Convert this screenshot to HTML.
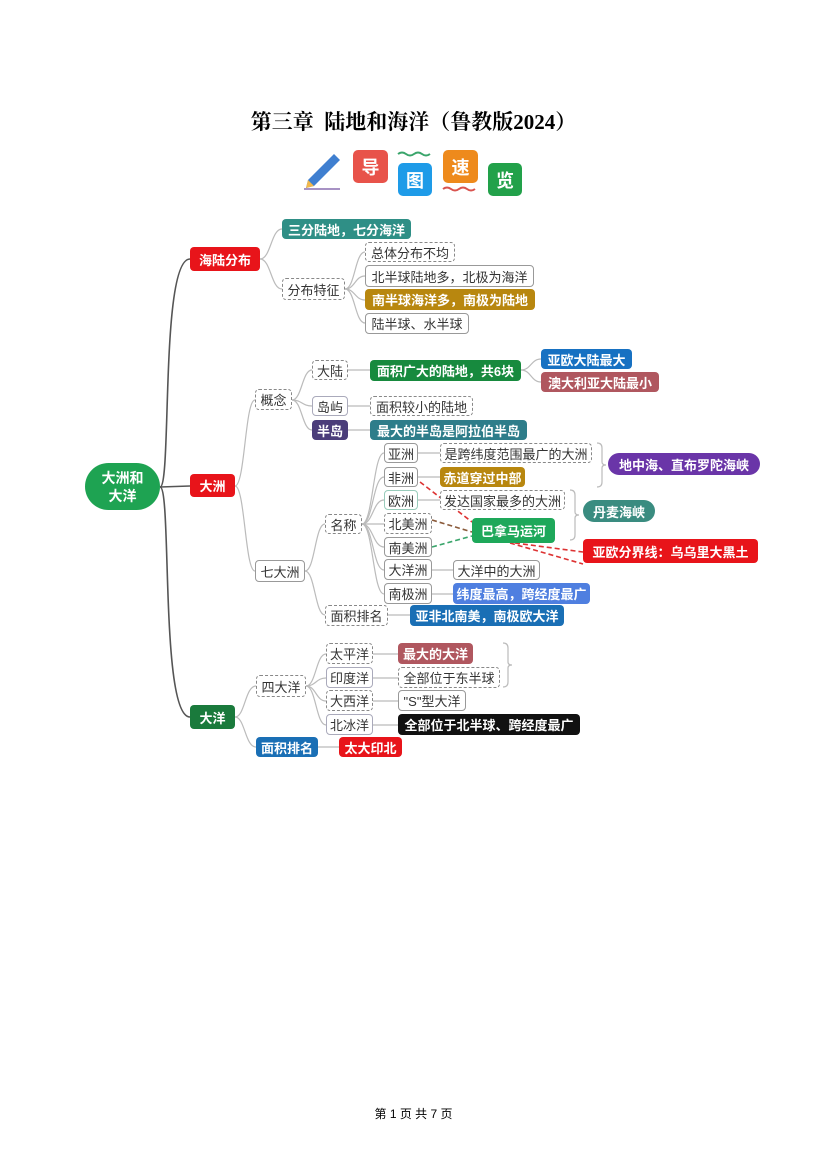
<!DOCTYPE html>
<html><head><meta charset="utf-8">
<style>
body{margin:0;background:#fff;width:827px;height:1169px;position:relative;overflow:hidden;font-family:"Liberation Sans","Noto Sans CJK SC",sans-serif}
.n{position:absolute;box-sizing:border-box;border-radius:4px;font-size:13px;display:flex;align-items:center;justify-content:center;white-space:nowrap;color:#333;background:#fff}
.s{border:1.3px solid #999}
.d{border:1.3px dashed #888}
.c{color:#fff;font-weight:bold}
svg{position:absolute;left:0;top:0}
.t{position:absolute;left:0;width:827px;text-align:center;top:106px;font-family:"Liberation Serif","Noto Serif CJK SC",serif;font-weight:bold;font-size:21px;color:#000}
.ic{position:absolute;border-radius:5px;color:#fff;font-weight:bold;font-size:18px;display:flex;align-items:center;justify-content:center}
</style></head><body>
<div class="t">第三章&nbsp; 陆地和海洋（鲁教版2024）</div>
<svg width="827" height="1169">
<g transform="translate(304,152)"><polygon points="30,2 36,8 10,34 2,36 4,28" fill="#3f7fd0"/><polygon points="2,36 4,28 10,34" fill="#f2b84b"/><line x1="0" y1="37" x2="36" y2="37" stroke="#8a6fb0" stroke-width="1.5"/></g>
<path d="M398 154 q4 -3 8 0 t8 0 t8 0 t8 0" stroke="#3aa56b" fill="none" stroke-width="2"/>
<path d="M443 189 q4 -3 8 0 t8 0 t8 0 t8 0" stroke="#d9534f" fill="none" stroke-width="2"/>
<g fill="none" stroke="#555" stroke-width="1.6">
<path d="M160 487 C172 487 160 259 190 259"/><path d="M160 487 L190 486"/><path d="M160 487 C172 487 160 717 190 717"/>
</g>
<g fill="none" stroke="#bbb" stroke-width="1.2">
<path d="M260 259 C271 259 271 229 282 229"/><path d="M260 259 C271 259 271 289 282 289"/>
<path d="M345 289 C355 289 355 252 365 252"/><path d="M345 289 C355 289 355 276 365 276"/><path d="M345 289 C355 289 355 300 365 300"/><path d="M345 289 C355 289 355 323 365 323"/>
<path d="M235 486 C245 486 245 400 255 400"/><path d="M235 486 C245 486 245 571 255 571"/>
<path d="M292 400 C302 400 302 370 312 370"/><path d="M292 400 C302 400 302 406 312 406"/><path d="M292 400 C302 400 302 430 312 430"/>
<path d="M348 370 L370 370"/><path d="M348 406 L370 406"/><path d="M348 430 L370 430"/>
<path d="M521 370 C531 370 531 359 541 359"/><path d="M521 370 C531 370 531 382 541 382"/>
<path d="M305 571 C315 571 315 524 325 524"/><path d="M305 571 C315 571 315 615 325 615"/>
<path d="M362 524 C373 524 373 453 384 453"/><path d="M362 524 C373 524 373 477 384 477"/><path d="M362 524 C373 524 373 500 384 500"/><path d="M362 524 L384 524"/><path d="M362 524 C373 524 373 547 384 547"/><path d="M362 524 C373 524 373 570 384 570"/><path d="M362 524 C373 524 373 594 384 594"/>
<path d="M418 453 L440 453"/><path d="M418 477 L440 477"/><path d="M418 500 L440 500"/><path d="M432 570 L453 570"/><path d="M432 594 L453 594"/><path d="M388 615 L410 615"/>
<path d="M235 717 C245 717 245 686 256 686"/><path d="M235 717 C245 717 245 747 256 747"/>
<path d="M306 686 C316 686 316 654 326 654"/><path d="M306 686 C316 686 316 678 326 678"/><path d="M306 686 C316 686 316 701 326 701"/><path d="M306 686 C316 686 316 725 326 725"/>
<path d="M373 654 L398 654"/><path d="M373 678 L398 678"/><path d="M373 701 L398 701"/><path d="M373 725 L398 725"/><path d="M318 747 L339 747"/>
<path d="M597 443 q5 0 5 5 v14 q0 3 4 3 q-4 0 -4 3 v14 q0 5 -5 5"/>
<path d="M570 490 q5 0 5 5 v17 q0 3 4 3 q-4 0 -4 3 v17 q0 5 -5 5"/>
<path d="M503 643 q5 0 5 5 v14 q0 3 4 3 q-4 0 -4 3 v14 q0 5 -5 5"/>
</g>
<g fill="none" stroke-width="1.6" stroke-dasharray="5,3">
<path d="M420 482 L472 522" stroke="#d33"/><path d="M432 520 L472 532" stroke="#8a5a3a"/><path d="M432 547 L472 536" stroke="#3aa56b"/>
<path d="M515 543 L583 552" stroke="#d33"/><path d="M510 543 L583 564" stroke="#d33"/>
</g>
</svg>
<div class="ic" style="left:353px;top:150px;width:35px;height:33px;background:#e8534a">导</div>
<div class="ic" style="left:398px;top:163px;width:34px;height:33px;background:#1e9be8">图</div>
<div class="ic" style="left:443px;top:150px;width:35px;height:33px;background:#ee8a1c">速</div>
<div class="ic" style="left:488px;top:163px;width:34px;height:33px;background:#22a14a">览</div>

<div class="n c" style="left:85px;top:463px;width:75px;height:47px;border-radius:24px;background:#1ea352;font-size:14px;line-height:18px;white-space:normal;text-align:center">大洲和<br>大洋</div>
<div class="n c" style="left:190px;top:247px;width:70px;height:24px;background:#e8141a">海陆分布</div>
<div class="n c" style="left:282px;top:219px;width:129px;height:20px;background:#2f8f86">三分陆地，七分海洋</div>
<div class="n d" style="left:282px;top:278px;width:63px;height:22px">分布特征</div>
<div class="n d" style="left:365px;top:242px;width:90px;height:20px">总体分布不均</div>
<div class="n s" style="left:365px;top:265px;width:169px;height:22px">北半球陆地多，北极为海洋</div>
<div class="n c" style="left:365px;top:289px;width:170px;height:21px;background:#b8870f">南半球海洋多，南极为陆地</div>
<div class="n s" style="left:365px;top:313px;width:104px;height:21px">陆半球、水半球</div>

<div class="n c" style="left:190px;top:474px;width:45px;height:23px;background:#e8141a">大洲</div>
<div class="n d" style="left:255px;top:389px;width:37px;height:21px">概念</div>
<div class="n d" style="left:312px;top:360px;width:36px;height:20px">大陆</div>
<div class="n c" style="left:370px;top:360px;width:151px;height:21px;background:#178a3e">面积广大的陆地，共6块</div>
<div class="n c" style="left:541px;top:349px;width:91px;height:20px;background:#1771c2">亚欧大陆最大</div>
<div class="n c" style="left:541px;top:372px;width:118px;height:20px;background:#b0575f">澳大利亚大陆最小</div>
<div class="n s" style="left:312px;top:396px;width:36px;height:20px;border-color:#aab">岛屿</div>
<div class="n d" style="left:370px;top:396px;width:103px;height:20px">面积较小的陆地</div>
<div class="n c" style="left:312px;top:420px;width:36px;height:20px;background:#4b3d7a">半岛</div>
<div class="n c" style="left:370px;top:420px;width:157px;height:20px;background:#2e7d8a">最大的半岛是阿拉伯半岛</div>

<div class="n s" style="left:255px;top:560px;width:50px;height:22px">七大洲</div>
<div class="n d" style="left:325px;top:514px;width:37px;height:20px">名称</div>
<div class="n s" style="left:384px;top:443px;width:34px;height:20px">亚洲</div>
<div class="n d" style="left:440px;top:443px;width:152px;height:20px">是跨纬度范围最广的大洲</div>
<div class="n s" style="left:384px;top:467px;width:34px;height:20px">非洲</div>
<div class="n c" style="left:440px;top:467px;width:85px;height:20px;background:#b8870f">赤道穿过中部</div>
<div class="n s" style="left:384px;top:490px;width:34px;height:20px;border-color:#9cb">欧洲</div>
<div class="n d" style="left:440px;top:490px;width:125px;height:20px">发达国家最多的大洲</div>
<div class="n d" style="left:384px;top:513px;width:48px;height:21px">北美洲</div>
<div class="n s" style="left:384px;top:537px;width:48px;height:20px">南美洲</div>
<div class="n s" style="left:384px;top:559px;width:48px;height:21px">大洋洲</div>
<div class="n s" style="left:453px;top:560px;width:87px;height:20px">大洋中的大洲</div>
<div class="n s" style="left:384px;top:583px;width:48px;height:21px">南极洲</div>
<div class="n c" style="left:453px;top:583px;width:137px;height:21px;background:#4f7fe0">纬度最高，跨经度最广</div>
<div class="n d" style="left:325px;top:605px;width:63px;height:21px">面积排名</div>
<div class="n c" style="left:410px;top:605px;width:154px;height:21px;background:#1a6fb5">亚非北南美，南极欧大洋</div>
<div class="n c" style="left:472px;top:518px;width:83px;height:25px;background:#1ea85a">巴拿马运河</div>
<div class="n c" style="left:608px;top:453px;width:152px;height:22px;border-radius:11px;background:#6a35a8">地中海、直布罗陀海峡</div>
<div class="n c" style="left:583px;top:500px;width:72px;height:22px;border-radius:11px;background:#3a8c80">丹麦海峡</div>
<div class="n c" style="left:583px;top:539px;width:175px;height:24px;background:#e8141a">亚欧分界线：乌乌里大黑土</div>

<div class="n c" style="left:190px;top:705px;width:45px;height:24px;background:#1a7a3c">大洋</div>
<div class="n d" style="left:256px;top:675px;width:50px;height:22px">四大洋</div>
<div class="n d" style="left:326px;top:643px;width:47px;height:21px">太平洋</div>
<div class="n c" style="left:398px;top:643px;width:75px;height:21px;background:#b0575f">最大的大洋</div>
<div class="n s" style="left:326px;top:667px;width:47px;height:21px;border-color:#aab">印度洋</div>
<div class="n d" style="left:398px;top:667px;width:102px;height:21px">全部位于东半球</div>
<div class="n d" style="left:326px;top:690px;width:47px;height:21px">大西洋</div>
<div class="n s" style="left:398px;top:690px;width:68px;height:21px">"S"型大洋</div>
<div class="n s" style="left:326px;top:714px;width:47px;height:21px;border-color:#aab">北冰洋</div>
<div class="n c" style="left:398px;top:714px;width:182px;height:21px;background:#111">全部位于北半球、跨经度最广</div>
<div class="n c" style="left:256px;top:737px;width:62px;height:20px;background:#1a6fb5">面积排名</div>
<div class="n c" style="left:339px;top:737px;width:63px;height:20px;background:#e8141a">太大印北</div>

<div style="position:absolute;left:0;width:827px;top:1105px;text-align:center;font-size:12px;color:#000">第 1 页 共 7 页</div>
</body></html>
